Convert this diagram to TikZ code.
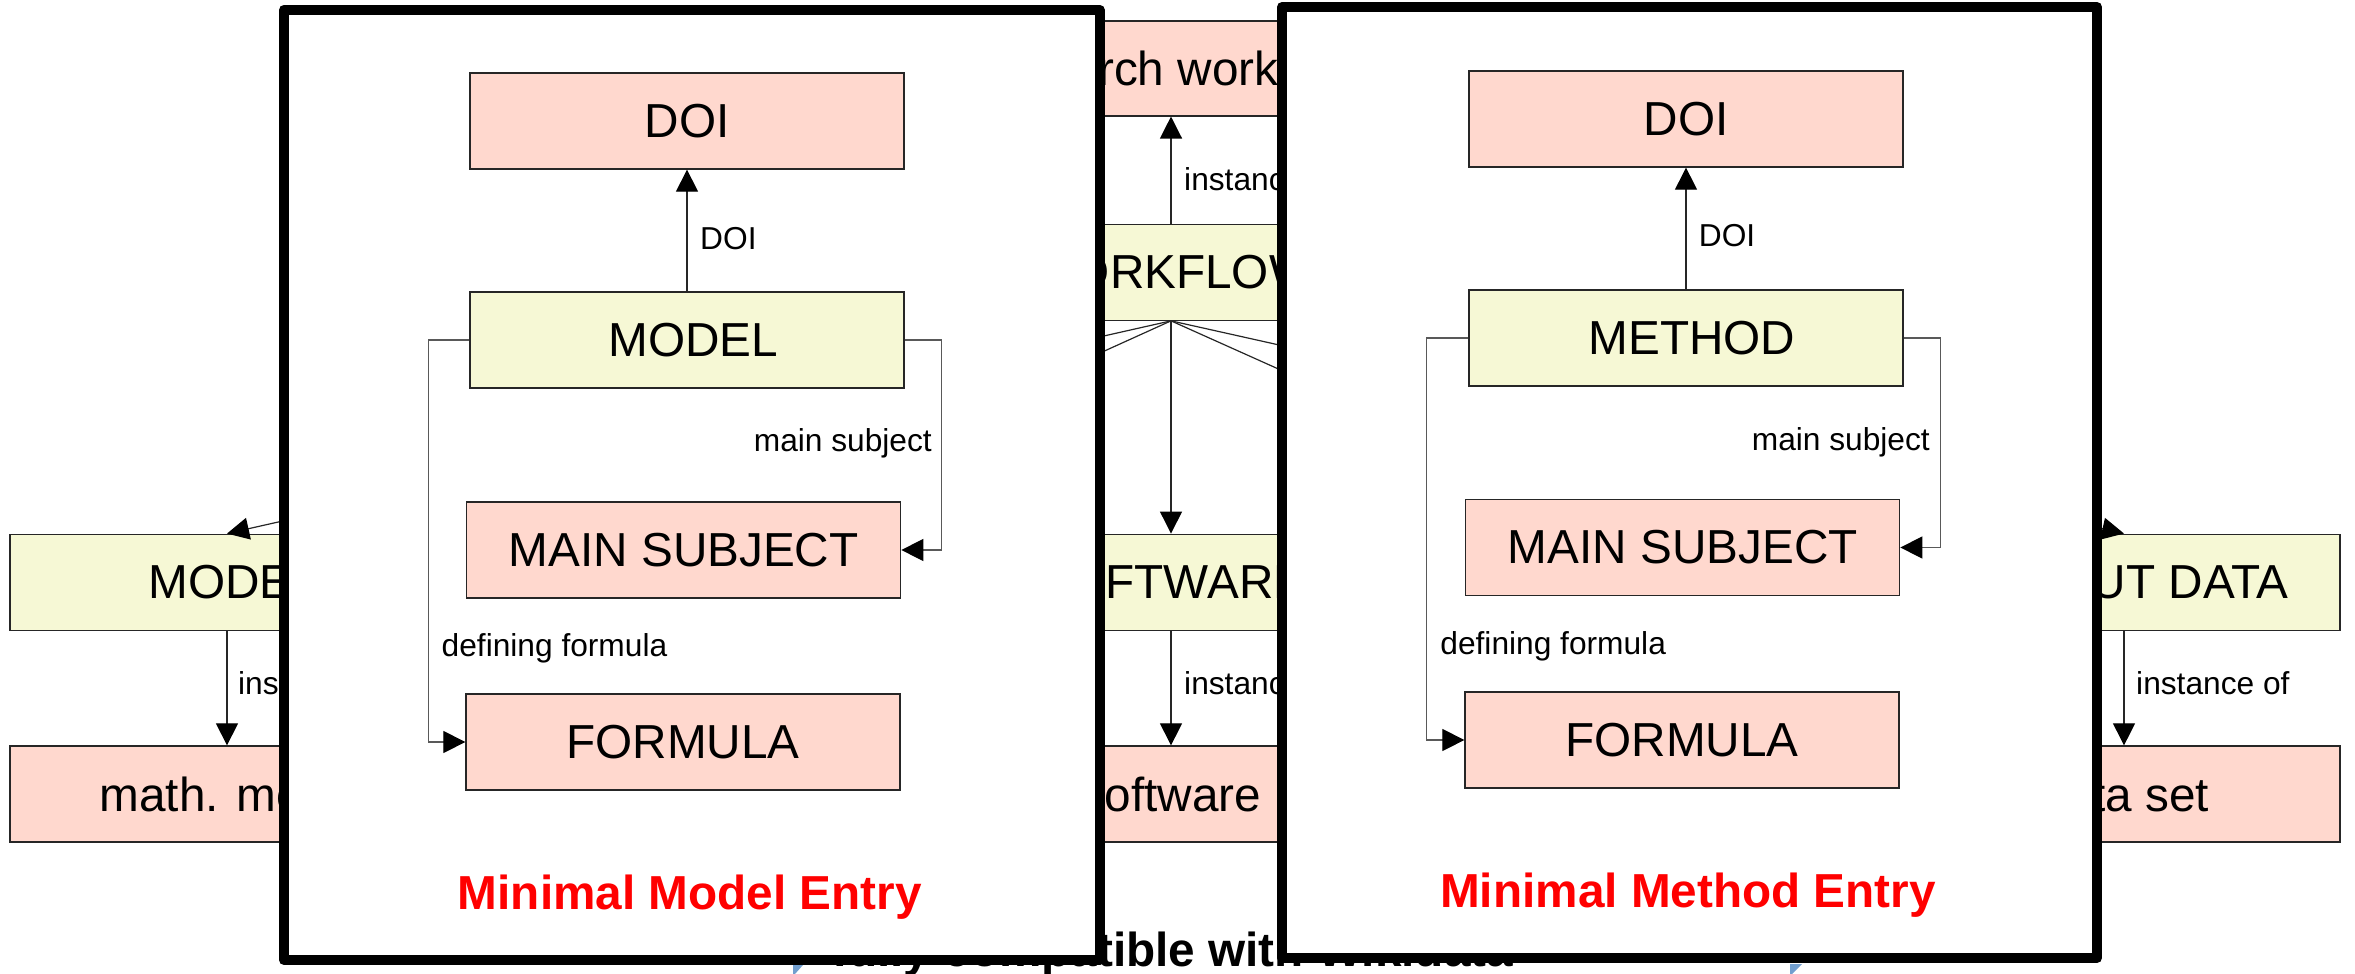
\documentclass[tikz,border=0pt]{standalone}
\usepackage{fontspec}
\setmainfont{Liberation Sans}
\usetikzlibrary{arrows.meta}
\definecolor{boxpink}{RGB}{255,216,206}
\definecolor{boxyellow}{RGB}{246,248,213}
\definecolor{tipblue}{RGB}{114,159,207}
\begin{document}
\begin{tikzpicture}[x=1pt,y=-1pt,
  box/.style={draw=black!85, line width=1.3pt, minimum width=434pt, minimum height=96pt, inner sep=0pt, font=\fontsize{47.7}{50}\selectfont},
  pinkbox/.style={box, fill=boxpink},
  yellowbox/.style={box, fill=boxyellow},
  conn/.style={draw=black!85, line width=1.2pt},
  loopconn/.style={draw=black!65, line width=1.2pt},
  tipend/.style={-{Triangle[length=22pt,width=22pt,color=black,fill=black]}},
  arr/.style={conn, tipend},
  looparr/.style={loopconn, tipend},
  elabel/.style={anchor=base west, inner sep=0pt, font=\fontsize{31.7}{34}\selectfont},
  panel/.style={draw=black, line width=10pt, fill=white, line join=round, inner sep=0pt},
  entry/.style={anchor=base, inner sep=0pt, text=red, font=\bfseries\fontsize{47.7}{50}\selectfont},
]
\useasboundingbox (0,0) rectangle (2355,974);

% ---------- background diagram ----------
\node[pinkbox, minimum height=95pt] (rw) at (1171,68.4) {research workflow};
\node[yellowbox] (wf) at (1171,272.2) {WORKFLOW};
\node[yellowbox] (model) at (227,582.2) {\hspace*{13pt}MODEL};
\node[yellowbox] (sw) at (1171,582.2) {SOFTWARE};
\node[yellowbox, minimum width=432pt] (out) at (2124,582.2) {OUTPUT DATA};
\node[pinkbox] (mm) at (227,794) {\hspace*{12pt}math. model};
\node[pinkbox] (swi) at (1171,794) {software};
\node[pinkbox, minimum width=432pt] (ds) at (2124,794) {data set};
\coordinate (methodtop) at (700,534.2);
\coordinate (inputtop) at (1647,534.2);

\draw[arr] (wf.north) -- (rw.south);
\node[elabel] (lbrw) at (1184,190) {instance of};
\draw[arr] (wf.south) -- (model.north);
\draw[arr] (wf.south) -- (methodtop);
\draw[arr] (wf.south) -- (sw.north);
\draw[arr] (wf.south) -- (inputtop);
\draw[arr] (wf.south) -- (out.north);
\draw[arr] (model.south) -- (mm.north);
\node[elabel] (lbmm) at (238,694.3) {instance of};
\draw[arr] (sw.south) -- (swi.north);
\node[elabel] (lbsw) at (1184,694.3) {instance of};
\draw[arr] (out.south) -- (ds.north);
\node[elabel] (lbds) at (2136,694.3) {instance of};

\node[anchor=base west, inner sep=0pt, font=\bfseries\fontsize{47.7}{50}\selectfont] (compat) at (832,966) {fully compatible with Wikidata};
\fill[tipblue] (793,965) -- (803,965) -- (795,974) -- (793,974) -- cycle;
\fill[tipblue] (1790,964) -- (1802,964) -- (1792,974) -- (1790,974) -- cycle;

% ---------- left panel: Minimal Model Entry ----------
\node[panel, minimum width=815.5pt, minimum height=950.3pt] (lpanel) at (691.75,484.85) {};
\node[pinkbox] (ldoi) at (687,121) {DOI};
\node[yellowbox] (lmodel) at (687,340) {\hspace*{13pt}MODEL};
\node[pinkbox] (lms) at (683.7,550) {MAIN SUBJECT};
\node[pinkbox] (lf) at (683,742) {FORMULA};
\draw[arr] (lmodel.north) -- (ldoi.south);
\node[elabel] (lbldoi) at (700,249.3) {DOI};
\draw[looparr] (lmodel.west) -- ++(-41,0) |- (lf.west);
\draw[looparr] (lmodel.east) -- ++(37,0) |- (lms.east);
\node[elabel, anchor=base east] (lblms) at (932,451.7) {main subject};
\node[elabel] (lbldf) at (441.5,656.7) {defining formula};
\node[entry] (lentry) at (689.8,909) {Minimal Model Entry};

% ---------- right panel: Minimal Method Entry ----------
\node[panel, minimum width=815pt, minimum height=951pt] (rpanel) at (1689.5,482.5) {};
\node[pinkbox] (rdoi) at (1686,119) {DOI};
\node[yellowbox] (rmethod) at (1686,338) {\hspace*{12pt}METHOD};
\node[pinkbox] (rms) at (1682.7,547.5) {MAIN SUBJECT};
\node[pinkbox] (rf) at (1682,740) {FORMULA};
\draw[arr] (rmethod.north) -- (rdoi.south);
\node[elabel] (lbrdoi) at (1698.7,246.7) {DOI};
\draw[looparr] (rmethod.west) -- ++(-42,0) |- (rf.west);
\draw[looparr] (rmethod.east) -- ++(37,0) |- (rms.east);
\node[elabel, anchor=base east] (lbrms) at (1930,450) {main subject};
\node[elabel] (lbrdf) at (1440.2,654) {defining formula};
\node[entry] (rentry) at (1688,907) {Minimal Method Entry};
\end{tikzpicture}
\end{document}
